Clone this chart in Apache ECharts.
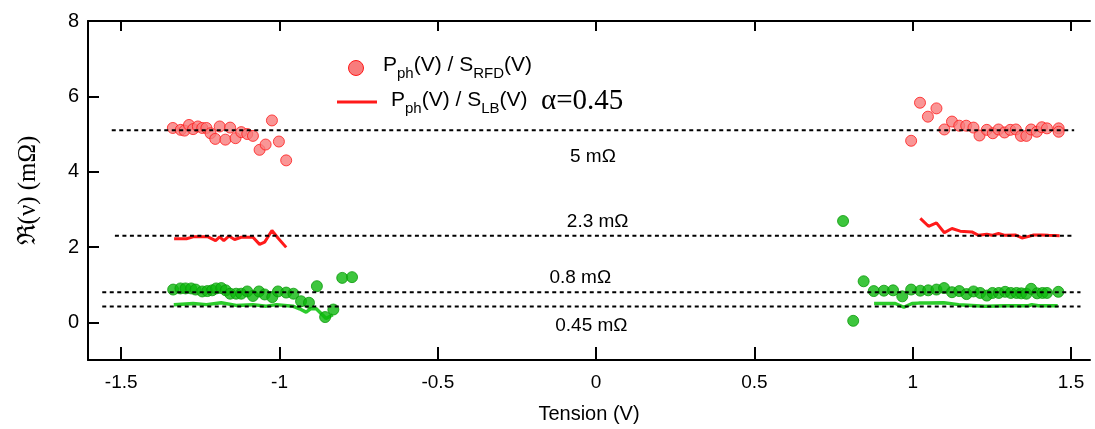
<!DOCTYPE html>
<html>
<head>
<meta charset="utf-8">
<script src="https://cdn.jsdelivr.net/npm/echarts@6/dist/echarts.min.js"></script>
<style>
html,body{margin:0;padding:0;background:#fff;}
#chart{width:1095px;height:429px;}
</style>
</head>
<body>
<div id="chart"></div>
<script>
// ---- data ----
const xTicks = [-1.5, -1, -0.5, 0, 0.5, 1, 1.5];
const yTicks = [0, 2, 4, 6, 8];

const redCirclesLeft = [
  [-1.337,5.16],[-1.312,5.11],[-1.300,5.09],[-1.286,5.24],[-1.273,5.13],[-1.258,5.20],
  [-1.244,5.16],[-1.231,5.16],[-1.218,5.02],[-1.203,4.87],[-1.189,5.20],[-1.171,4.85],
  [-1.156,5.17],[-1.139,4.89],[-1.121,5.05],[-1.102,5.00],[-1.084,4.95],[-1.063,4.58],
  [-1.044,4.72],[-1.024,5.36],[-1.002,4.80],[-0.979,4.30]
];
const redCirclesRight = [
  [0.995,4.82],[1.023,5.83],[1.048,5.46],[1.075,5.68],[1.100,5.12],[1.124,5.33],
  [1.147,5.22],[1.169,5.22],[1.192,5.17],[1.211,4.96],[1.234,5.11],[1.253,5.02],
  [1.271,5.12],[1.290,5.04],[1.308,5.11],[1.326,5.12],[1.342,4.95],[1.359,4.95],
  [1.374,5.12],[1.392,5.06],[1.408,5.18],[1.424,5.15],[1.461,5.15],[1.461,5.06]
];
const redLineLeft = [
  [-1.333,2.22],[-1.294,2.22],[-1.273,2.27],[-1.226,2.27],[-1.202,2.17],[-1.189,2.27],
  [-1.176,2.17],[-1.160,2.29],[-1.142,2.20],[-1.121,2.26],[-1.084,2.26],[-1.063,2.07],
  [-1.047,2.13],[-1.024,2.44],[-1.005,2.24],[-0.979,1.99]
];
const redLineRight = [
  [1.024,2.76],[1.050,2.55],[1.075,2.64],[1.100,2.38],[1.124,2.49],[1.150,2.42],
  [1.187,2.40],[1.208,2.31],[1.234,2.34],[1.250,2.31],[1.271,2.36],[1.292,2.31],
  [1.324,2.32],[1.345,2.24],[1.361,2.27],[1.382,2.32],[1.408,2.32],[1.429,2.31],[1.464,2.30]
];
const greenCirclesLeft = [
  [-1.336,0.87],[-1.313,0.90],[-1.297,0.90],[-1.279,0.90],[-1.265,0.87],[-1.244,0.82],
  [-1.228,0.83],[-1.213,0.85],[-1.200,0.90],[-1.184,0.91],[-1.170,0.85],[-1.156,0.76],
  [-1.137,0.76],[-1.121,0.76],[-1.102,0.82],[-1.084,0.70],[-1.065,0.82],[-1.047,0.74],
  [-1.023,0.67],[-1.005,0.82],[-0.979,0.79],[-0.956,0.76],[-0.932,0.56],[-0.907,0.52],
  [-0.882,0.96],[-0.856,0.14],[-0.830,0.34],[-0.802,1.18],[-0.771,1.20]
];
const greenCirclesRight = [
  [0.780,2.69],[0.812,0.04],[0.845,1.09],[0.877,0.83],[0.909,0.84],[0.938,0.85],
  [0.967,0.69],[0.995,0.87],[1.024,0.84],[1.049,0.85],[1.075,0.87],[1.099,0.91],
  [1.124,0.80],[1.147,0.83],[1.170,0.75],[1.192,0.82],[1.213,0.78],[1.234,0.71],
  [1.252,0.78],[1.272,0.78],[1.292,0.81],[1.310,0.78],[1.328,0.78],[1.343,0.77],
  [1.359,0.76],[1.374,0.89],[1.393,0.77],[1.410,0.78],[1.424,0.78],[1.460,0.81]
];
const greenLineLeft = [
  [-1.334,0.47],[-1.273,0.50],[-1.231,0.47],[-1.184,0.52],[-1.137,0.45],[-1.084,0.47],
  [-1.042,0.43],[-1.010,0.47],[-0.958,0.43],[-0.937,0.36],[-0.916,0.27],[-0.900,0.37],
  [-0.884,0.36],[-0.868,0.23],[-0.853,0.10],[-0.832,0.20]
];
const greenLineRight = [
  [0.878,0.50],[0.945,0.50],[0.972,0.40],[0.998,0.50],[1.019,0.51],[1.050,0.51],
  [1.098,0.52],[1.145,0.47],[1.229,0.43],[1.292,0.44],[1.366,0.44],[1.376,0.47],
  [1.397,0.44],[1.458,0.44]
];
// reference levels
const refLevels = [5.1, 2.3, 0.8, 0.42];
const refStarts = [-1.53, -1.52, -1.56, -1.56];
const refEnds = [1.51, 1.51, 1.53, 1.53];
const refLabels = ['5 mΩ', '2.3 mΩ', '0.8 mΩ', '0.45 mΩ'];
const refLabelAnchors = [[-0.01, 4.39], [0.005, 2.66], [-0.05, 1.17], [-0.015, -0.08]];

// ---- chart ----
const chart = echarts.init(document.getElementById('chart'), null, {renderer: 'canvas'});
const FONT = 'Liberation Sans, Arial, sans-serif';
const SERIF = 'Liberation Serif, Times New Roman, serif';
const red = '#ff1a1a';
const redFill = '#f87c7c';
const green = '#0cb80c';
const greenLine = '#2ccc2c';

const refSeries = refLevels.map((lv, i) => ({
  type: 'line',
  data: [[refStarts[i], lv], [refEnds[i], lv]],
  symbol: 'none',
  silent: true,
  z: 10,
  lineStyle: {color: '#000', width: 2, type: [4, 3.5]}
}));

const redCircleStyle = {color: redFill, borderColor: red, borderWidth: 1};
const greenCircleStyle = {color: green, borderColor: '#0a9a0a', borderWidth: 1};

const legendRich = {
  m: {fontFamily: FONT, fontSize: 21, color: '#000', lineHeight: 27, verticalAlign: 'top'},
  s: {fontFamily: FONT, fontSize: 15, color: '#000', lineHeight: 27, verticalAlign: 'bottom'}
};

const option = {
  animation: false,
  backgroundColor: '#fff',
  grid: {left: 88, right: 5, top: 21, bottom: 69, containLabel: false},
  xAxis: [{
    type: 'value', min: -1.605, max: 1.56, position: 'bottom',
    name: 'Tension (V)', nameLocation: 'middle', nameGap: 44,
    nameTextStyle: {fontFamily: FONT, fontSize: 20, color: '#000'},
    axisLine: {show: true, onZero: false, lineStyle: {color: '#000', width: 2}},
    axisTick: {show: true, inside: true, length: 13, customValues: xTicks, lineStyle: {color: '#000', width: 2}},
    axisLabel: {show: true, customValues: xTicks, margin: 13, fontFamily: FONT, fontSize: 19, color: '#000'},
    splitLine: {show: false}
  }, {
    type: 'value', min: -1.605, max: 1.56, position: 'top',
    axisLine: {show: true, onZero: false, lineStyle: {color: '#000', width: 2}},
    axisTick: {show: true, inside: true, length: 10, customValues: xTicks, lineStyle: {color: '#000', width: 2}},
    axisLabel: {show: false},
    splitLine: {show: false}
  }],
  yAxis: [{
    type: 'value', min: -1, max: 8,
    name: 'ℜ(ν) (mΩ)', nameLocation: 'middle', nameGap: 47, nameRotate: 90,
    nameTextStyle: {fontFamily: SERIF, fontSize: 25, color: '#000'},
    axisLine: {show: true, onZero: false, lineStyle: {color: '#000', width: 2}},
    axisTick: {show: true, inside: true, length: 11, customValues: yTicks, lineStyle: {color: '#000', width: 2}},
    axisLabel: {show: true, customValues: yTicks, margin: 9, fontFamily: FONT, fontSize: 20, color: '#000'},
    splitLine: {show: false}
  }],
  series: [
    {type: 'line', data: redLineLeft, symbol: 'none', lineStyle: {color: red, width: 3}, z: 3},
    {type: 'line', data: redLineRight, symbol: 'none', lineStyle: {color: red, width: 3}, z: 3},
    {type: 'line', data: greenLineLeft, symbol: 'none', lineStyle: {color: greenLine, width: 3.5}, z: 3},
    {type: 'line', data: greenLineRight, symbol: 'none', lineStyle: {color: greenLine, width: 3.5}, z: 3},
    {type: 'scatter', data: redCirclesLeft, symbolSize: 11, itemStyle: redCircleStyle, z: 4},
    {type: 'scatter', data: redCirclesRight, symbolSize: 11, itemStyle: redCircleStyle, z: 4},
    {type: 'scatter', data: greenCirclesLeft, symbolSize: 11, itemStyle: greenCircleStyle, z: 4},
    {type: 'scatter', data: greenCirclesRight, symbolSize: 11, itemStyle: greenCircleStyle, z: 4},
    ...refSeries,
    {
      type: 'scatter', silent: true, symbolSize: 0, z: 11,
      data: refLabelAnchors.map((p, i) => ({value: p, name: refLabels[i]})),
      itemStyle: {opacity: 1},
      label: {show: true, position: 'inside', formatter: p => p.name,
        fontFamily: FONT, fontSize: 19, color: '#000', opacity: 1}
    }
  ],
  graphic: [
    {type: 'circle', shape: {cx: 356, cy: 68, r: 7.5}, style: {fill: redFill, stroke: red, lineWidth: 1}},
    {type: 'text', x: 383, y: 68, style: {
      text: '{m|P}{s|ph}{m|(V) / S}{s|RFD}{m|(V)}',
      verticalAlign: 'middle', align: 'left', rich: legendRich
    }},
    {type: 'line', shape: {x1: 337, y1: 102, x2: 377, y2: 102}, style: {stroke: red, lineWidth: 3}},
    {type: 'text', x: 391, y: 103, style: {
      text: '{m|P}{s|ph}{m|(V) / S}{s|LB}{m|(V)}',
      verticalAlign: 'middle', align: 'left', rich: legendRich
    }},
    {type: 'text', x: 541, y: 101, style: {
      text: 'α=0.45', verticalAlign: 'middle', align: 'left',
      fontFamily: SERIF, fontSize: 29, fill: '#000'
    }}
  ]
};
chart.setOption(option);
</script>
</body>
</html>
